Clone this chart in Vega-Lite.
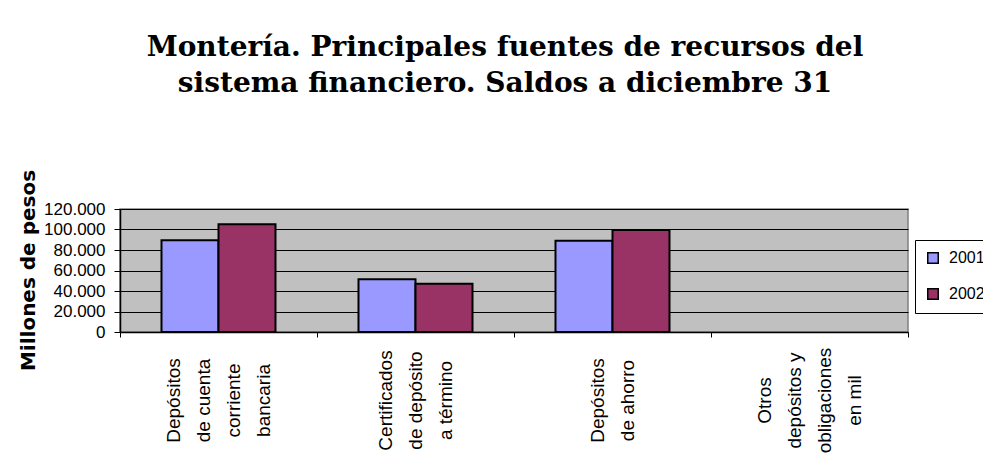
{
  "$schema": "https://vega.github.io/schema/vega-lite/v6.json",
  "width": 788,
  "height": 123,
  "autosize": {"type": "none"},
  "padding": {"left": 120, "top": 209, "right": 75, "bottom": 125},
  "background": "white",
  "config": {
    "locale": {"number": {"decimal": ",", "thousands": ".", "grouping": [3], "currency": ["$", ""]}},
    "view": {"fill": "#C0C0C0", "stroke": "#808080", "strokeWidth": 1.5},
    "font": "Liberation Sans"
  },
  "title": {
    "text": ["Montería. Principales fuentes de recursos del", "sistema financiero. Saldos a diciembre 31"],
    "font": "DejaVu Serif",
    "fontWeight": "bold",
    "fontSize": 28,
    "lineHeight": 36,
    "color": "black",
    "anchor": "middle",
    "frame": "group",
    "dx": -9,
    "offset": 71
  },
  "data": {
    "values": [
      {"categoria": "Depósitos de cuenta corriente bancaria", "anio": "2001", "valor": 89400},
      {"categoria": "Depósitos de cuenta corriente bancaria", "anio": "2002", "valor": 105100},
      {"categoria": "Certificados de depósito a término", "anio": "2001", "valor": 51500},
      {"categoria": "Certificados de depósito a término", "anio": "2002", "valor": 47000},
      {"categoria": "Depósitos de ahorro", "anio": "2001", "valor": 89000},
      {"categoria": "Depósitos de ahorro", "anio": "2002", "valor": 99500}
    ]
  },
  "mark": {"type": "bar", "stroke": "black", "strokeWidth": 2},
  "encoding": {
    "x": {
      "field": "categoria",
      "type": "nominal",
      "sort": null,
      "scale": {
        "domain": ["Depósitos de cuenta corriente bancaria", "Certificados de depósito a término", "Depósitos de ahorro", "Otros depósitos y obligaciones en mil"],
        "paddingInner": 0,
        "paddingOuter": 0
      },
      "axis": {
        "title": null,
        "labelAngle": -90,
        "labelAlign": "center",
        "labelBaseline": "middle",
        "labelFontSize": 19,
        "labelLineHeight": 30,
        "labelColor": "black",
        "labelPadding": 63,
        "labelLimit": 0,
        "tickBand": "extent",
        "tickSize": 5,
        "tickColor": "black",
        "domainColor": "black",
        "domainWidth": 1.5,
        "labelExpr": "datum.value == 'Depósitos de cuenta corriente bancaria' ? ['Depósitos', 'de cuenta', 'corriente', 'bancaria'] : datum.value == 'Certificados de depósito a término' ? ['Certificados', 'de depósito', 'a término'] : datum.value == 'Depósitos de ahorro' ? ['Depósitos', 'de ahorro'] : datum.value == 'Otros depósitos y obligaciones en mil' ? ['Otros', 'depósitos y', 'obligaciones', 'en mil'] : ''",
        "labelOffset": {
          "condition": [
            {"test": "datum.value == 'Depósitos de ahorro'", "value": -15},
            {"test": "datum.value == 'Certificados de depósito a término'", "value": -30}
          ],
          "value": -45
        }
      }
    },
    "xOffset": {"field": "anio", "type": "nominal", "scale": {"paddingInner": 0, "paddingOuter": 0.728}},
    "y": {
      "field": "valor",
      "type": "quantitative",
      "scale": {"domain": [0, 120000], "nice": false},
      "axis": {
        "values": [0, 20000, 40000, 60000, 80000, 100000, 120000],
        "format": ",d",
        "title": "Millones de pesos",
        "titleFont": "DejaVu Sans",
        "titleFontWeight": "bold",
        "titleFontSize": 20,
        "titleColor": "black",
        "titleAngle": -90,
        "titleAlign": "center",
        "titleBaseline": "middle",
        "titleX": -92,
        "titleY": 61,
        "labelFontSize": 17,
        "labelColor": "black",
        "labelPadding": 9,
        "tickSize": 6,
        "tickColor": "black",
        "domainColor": "black",
        "domainWidth": 1.5,
        "grid": true,
        "gridColor": "black",
        "gridWidth": 1
      }
    },
    "color": {
      "field": "anio",
      "type": "nominal",
      "scale": {"domain": ["2001", "2002"], "range": ["#9999FF", "#993366"]},
      "legend": {
        "title": null,
        "orient": "none",
        "legendX": 795,
        "legendY": 31,
        "fillColor": "white",
        "strokeColor": "black",
        "padding": 10,
        "symbolType": "square",
        "symbolSize": 110,
        "symbolStrokeColor": "black",
        "symbolStrokeWidth": 1.5,
        "symbolOpacity": 1,
        "labelFontSize": 16,
        "labelColor": "black",
        "rowPadding": 18,
        "labelOffset": 8
      }
    }
  }
}
